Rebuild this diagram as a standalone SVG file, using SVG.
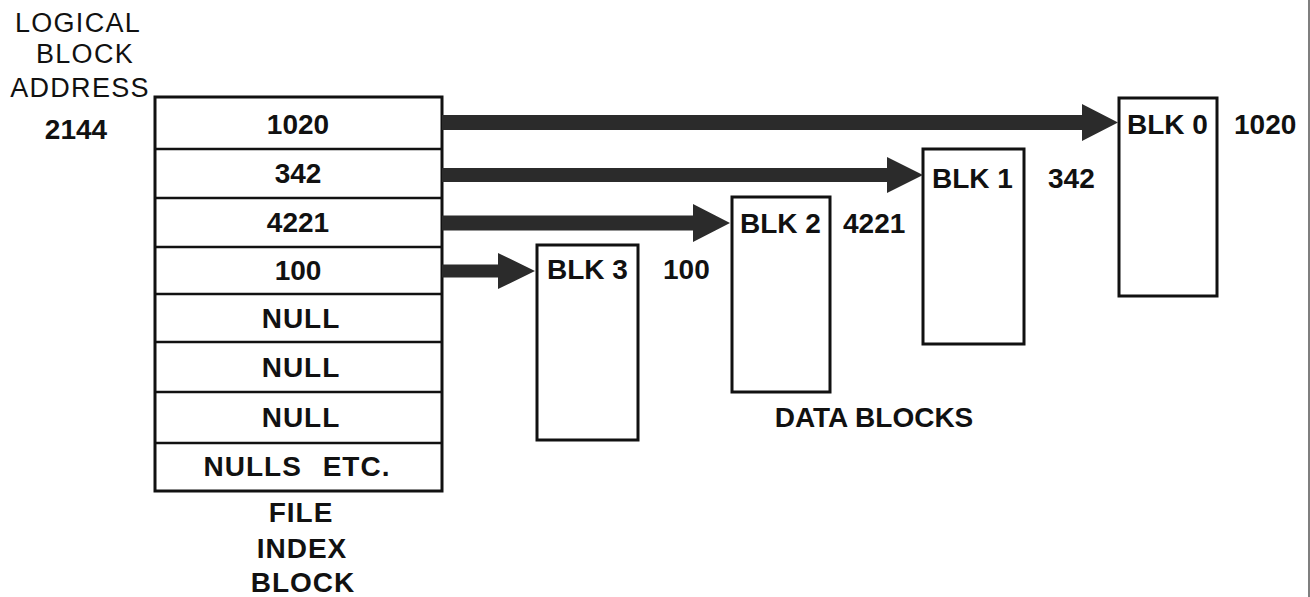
<svg xmlns="http://www.w3.org/2000/svg" width="1310" height="597" viewBox="0 0 1310 597">
<style>
.bg{fill:#ffffff}
.box{fill:#ffffff;stroke:#111;stroke-width:3}
.div{stroke:#111;stroke-width:2.5}
.arrow{fill:#2b2b2b}
.b{font-family:"Liberation Sans",Arial,sans-serif;font-weight:bold;font-size:28px;fill:#111}
.w{letter-spacing:1px}
.r{font-family:"Liberation Sans",Arial,sans-serif;font-size:27px;fill:#111;letter-spacing:1.3px}
.c{text-anchor:middle}
</style>
<rect class="bg" x="0" y="0" width="1310" height="597"/>
<line x1="1309" y1="0" x2="1309" y2="597" stroke="#555" stroke-width="1.5"/>

<g id="lba-label">
<text class="r c" x="78" y="32">LOGICAL</text>
<text class="r c" x="85" y="63">BLOCK</text>
<text class="r c" x="80" y="97">ADDRESS</text>
<text class="b c" x="76" y="139">2144</text>
</g>

<g id="file-index-block">
<rect class="box" x="155" y="97" width="287" height="394"/>
<line class="div" x1="155" y1="149" x2="442" y2="149"/>
<line class="div" x1="155" y1="198" x2="442" y2="198"/>
<line class="div" x1="155" y1="247" x2="442" y2="247"/>
<line class="div" x1="155" y1="294" x2="442" y2="294"/>
<line class="div" x1="155" y1="342" x2="442" y2="342"/>
<line class="div" x1="155" y1="392" x2="442" y2="392"/>
<line class="div" x1="155" y1="443" x2="442" y2="443"/>
<text class="b c" x="298" y="134">1020</text>
<text class="b c" x="298" y="183">342</text>
<text class="b c" x="298" y="232">4221</text>
<text class="b c" x="298" y="280">100</text>
<text class="b c w" x="301" y="328">NULL</text>
<text class="b c w" x="301" y="377">NULL</text>
<text class="b c w" x="301" y="427">NULL</text>
<text class="b c w" x="297" y="476" word-spacing="12">NULLS ETC.</text>
<text class="b c w" x="301" y="522">FILE</text>
<text class="b c w" x="302" y="558">INDEX</text>
<text class="b c w" x="303" y="592">BLOCK</text>
</g>

<g id="blk0">
<rect class="box" x="1119" y="98" width="98" height="198"/>
<text class="b" x="1127" y="134">BLK 0</text>
<text class="b" x="1234" y="134">1020</text>
</g>
<g id="blk1">
<rect class="box" x="923" y="149" width="101" height="195"/>
<text class="b" x="932" y="188">BLK 1</text>
<text class="b" x="1048" y="188">342</text>
</g>
<g id="blk2">
<rect class="box" x="732" y="197" width="98" height="195"/>
<text class="b" x="740" y="233">BLK 2</text>
<text class="b" x="843" y="233">4221</text>
</g>
<g id="blk3">
<rect class="box" x="537" y="245" width="101" height="195"/>
<text class="b" x="547" y="279">BLK 3</text>
<text class="b" x="663" y="279">100</text>
</g>
<g id="data-blocks-label">
<text class="b c" x="874" y="427">DATA BLOCKS</text>
</g>

<g id="connectors">
<polygon class="arrow" points="442,115 1082,115 1082,104 1118,122.5 1082,141 1082,130 442,130"/>
<polygon class="arrow" points="442,168 887,168 887,157 923,175 887,193 887,182 442,182"/>
<polygon class="arrow" points="442,215.5 693,215.5 693,204 730,223 693,242 693,230.5 442,230.5"/>
<polygon class="arrow" points="442,264.5 498,264.5 498,253 535,271 498,289 498,277.5 442,277.5"/>
</g>
</svg>
